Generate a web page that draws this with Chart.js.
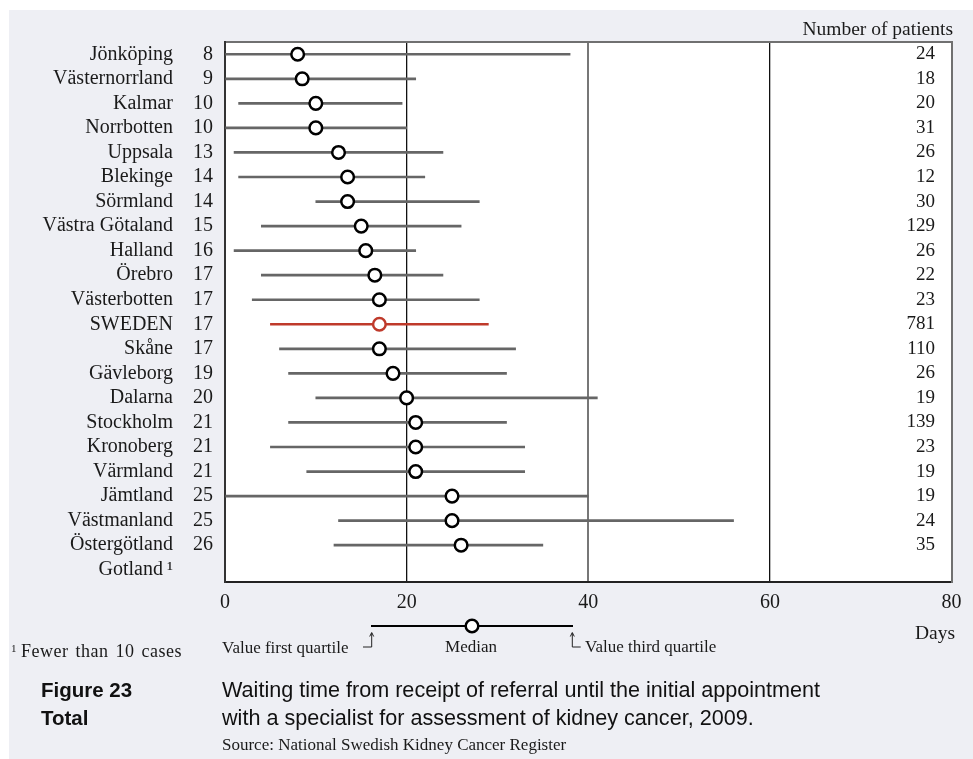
<!DOCTYPE html>
<html>
<head>
<meta charset="utf-8">
<title>Waiting time, kidney cancer 2009</title>
<script src="https://cdn.jsdelivr.net/npm/chart.js@4.4.1/dist/chart.umd.min.js"></script>
<style>
  html, body { margin: 0; padding: 0; background: #ffffff; }
  #page {
    position: relative; width: 973px; height: 759px; overflow: hidden;
    font-family: 'Liberation Serif', 'DejaVu Serif', serif; color: #1a1a1a;
  }
  #panel { position: absolute; left: 9px; top: 10px; right: 0; bottom: 0; background: #eeeff4; }
  #chart { position: absolute; left: 0; top: 0; }
  .t { position: absolute; white-space: nowrap; }
  .serif17 { font-size: 17px; line-height: 20px; }
  .head { font-size: 19.5px; line-height: 22px; }
  .cap { font-family: 'Liberation Sans', Arial, sans-serif; font-size: 21.6px; line-height: 28px; color: #111; }
  #key { position: absolute; left: 355px; top: 610px; }
</style>
</head>
<body>
<div id="page">
  <div id="panel"></div>
  <canvas id="chart" width="973" height="759"></canvas>

  <div class="t head" style="right:20px; top:18px;">Number of patients</div>
  <div class="t head" style="right:18px; top:622px;">Days</div>

  <div class="t serif17" style="left:11px; top:638px; font-size:18px; letter-spacing:0.5px; word-spacing:2px;"><sup style="font-size:11px; vertical-align:5px;">1</sup>&#8201;Fewer than 10 cases</div>
  <div class="t serif17" style="left:222px; top:638px;">Value first quartile</div>
  <div class="t serif17" style="left:431px; top:637px; width:80px; text-align:center;">Median</div>
  <div class="t serif17" style="left:585px; top:637px;">Value third quartile</div>

  <svg id="key" width="240" height="45" viewBox="0 0 240 45">
    <line x1="16" y1="16" x2="218" y2="16" stroke="#000" stroke-width="2"/>
    <circle cx="117" cy="16" r="6.3" fill="#fff" stroke="#000" stroke-width="2.5"/>
    <path d="M16.7 23 V37 H8" fill="none" stroke="#222" stroke-width="1"/>
    <path d="M14.7 26.5 L16.7 22.5 L18.7 26.5" fill="none" stroke="#222" stroke-width="1"/>
    <path d="M217.3 23 V37 H225.7" fill="none" stroke="#222" stroke-width="1"/>
    <path d="M215.3 26.5 L217.3 22.5 L219.3 26.5" fill="none" stroke="#222" stroke-width="1"/>
  </svg>

  <div class="t cap" style="left:41px; top:676px; font-weight:bold; font-size:20.5px;">Figure 23<br>Total</div>
  <div class="t cap" style="left:222px; top:676px;">Waiting time from receipt of referral until the initial appointment<br>with a specialist for assessment of kidney cancer, 2009.</div>
  <div class="t serif17" style="left:222px; top:735px;">Source: National Swedish Kidney Cancer Register</div>
</div>

<script>
// Regions, top to bottom
const regions = [
  'Jönköping', 'Västernorrland', 'Kalmar', 'Norrbotten', 'Uppsala', 'Blekinge',
  'Sörmland', 'Västra Götaland', 'Halland', 'Örebro', 'Västerbotten', 'SWEDEN',
  'Skåne', 'Gävleborg', 'Dalarna', 'Stockholm', 'Kronoberg', 'Värmland',
  'Jämtland', 'Västmanland', 'Östergötland', 'Gotland\u2009¹'
];

// Waiting time in days: median and quartiles (Gotland not reported)
const medianDays = [8, 8.5, 10, 10, 12.5, 13.5, 13.5, 15, 15.5, 16.5, 17, 17, 17, 18.5, 20, 21, 21, 21, 25, 25, 26, null];
const firstQuartile = [0, 0, 1.5, 0, 1, 1.5, 10, 4, 1, 4, 3, 5, 6, 7, 10, 7, 5, 9, 0, 12.5, 12, null];
const thirdQuartile = [38, 21, 19.5, 20, 24, 22, 28, 26, 21, 24, 28, 29, 32, 31, 41, 31, 33, 33, 40, 56, 35, null];

// Number of patients per region
const patients = [24, 18, 20, 31, 26, 12, 30, 129, 26, 22, 23, 781, 110, 26, 19, 139, 23, 19, 19, 24, 35, null];

// Day axis ticks
const dayTicks = [0, 20, 40, 60, 80];

const nationalRow = 'SWEDEN';

const serif = "'Liberation Serif', 'DejaVu Serif', serif";
const textColor = '#1a1a1a';
const medianLabels = medianDays.map(m => (m == null ? '' : String(Math.round(m))));
const patientLabels = patients.map(p => (p == null ? '' : String(p)));
const rangeColors = regions.map(r => (r === nationalRow ? '#bf3a2b' : '#666666'));
const markerColors = regions.map(r => (r === nationalRow ? '#bf3a2b' : '#000000'));
const ranges = regions.map((_, i) =>
  firstQuartile[i] == null ? null : [firstQuartile[i], thirdQuartile[i]]);

// White plotting area behind the grid
const plotBackground = {
  id: 'plotBackground',
  beforeDraw(chart) {
    const { ctx, chartArea: a } = chart;
    ctx.save();
    ctx.fillStyle = '#ffffff';
    ctx.fillRect(a.left, a.top, a.right - a.left, a.bottom - a.top);
    ctx.restore();
  }
};

const noGrid = { display: false, drawTicks: false };

new Chart(document.getElementById('chart'), {
  type: 'bar',
  data: {
    labels: regions,
    datasets: [
      {
        type: 'line',
        label: 'Median',
        data: medianDays,
        indexAxis: 'y',
        xAxisID: 'x',
        yAxisID: 'y',
        showLine: false,
        pointRadius: 6.3,
        pointHoverRadius: 6.3,
        pointBorderWidth: 2.5,
        pointBackgroundColor: '#ffffff',
        pointBorderColor: markerColors,
        order: 0
      },
      {
        type: 'bar',
        label: 'Interquartile range',
        data: ranges,
        indexAxis: 'y',
        xAxisID: 'x',
        yAxisID: 'y',
        backgroundColor: rangeColors,
        barThickness: 2,
        borderWidth: 0,
        order: 1
      }
    ]
  },
  options: {
    indexAxis: 'y',
    responsive: false,
    animation: false,
    events: [],
    layout: { padding: { top: 42, right: 21.5, bottom: 137, left: 0 } },
    plugins: { legend: { display: false }, tooltip: { enabled: false } },
    scales: {
      x: {
        type: 'linear',
        position: 'bottom',
        min: 0,
        max: 80,
        afterBuildTicks: s => { s.ticks = dayTicks.map(v => ({ value: v })); },
        ticks: { font: { family: serif, size: 20 }, color: textColor, padding: 9, maxRotation: 0, autoSkip: false },
        grid: {
          drawTicks: false,
          color: c => {
            const v = c.tick ? c.tick.value : null;
            if (v === 20 || v === 60) return '#111111';
            if (v === 40) return '#777777';
            return 'rgba(0,0,0,0)';
          },
          lineWidth: c => (c.tick && c.tick.value === 40 ? 2 : 1.3)
        },
        border: { display: true, color: '#222222', width: 2 },
        afterFit: s => { s.height = 40; }
      },
      xTop: {
        type: 'linear',
        position: 'top',
        min: 0,
        max: 80,
        ticks: { display: false },
        grid: noGrid,
        border: { display: true, color: '#707070', width: 2 },
        afterFit: s => { s.height = 0; }
      },
      y: {
        type: 'category',
        position: 'left',
        weight: 2,
        offset: true,
        ticks: { font: { family: serif, size: 20 }, color: textColor, padding: 2, autoSkip: false },
        grid: noGrid,
        border: { display: false },
        afterFit: s => { s.width = 175; }
      },
      yMedian: {
        type: 'category',
        labels: medianLabels,
        position: 'left',
        weight: 1,
        offset: true,
        ticks: { font: { family: serif, size: 20 }, color: textColor, padding: 12, autoSkip: false },
        grid: noGrid,
        border: { display: true, color: '#333333', width: 2 },
        afterFit: s => { s.width = 50; }
      },
      yPatients: {
        type: 'category',
        labels: patientLabels,
        position: 'right',
        offset: true,
        ticks: { mirror: true, font: { family: serif, size: 19 }, color: textColor, padding: -16.5, autoSkip: false },
        grid: noGrid,
        border: { display: true, color: '#707070', width: 2 },
        afterFit: s => { s.width = 0; }
      }
    }
  },
  plugins: [plotBackground]
});
</script>
</body>
</html>
